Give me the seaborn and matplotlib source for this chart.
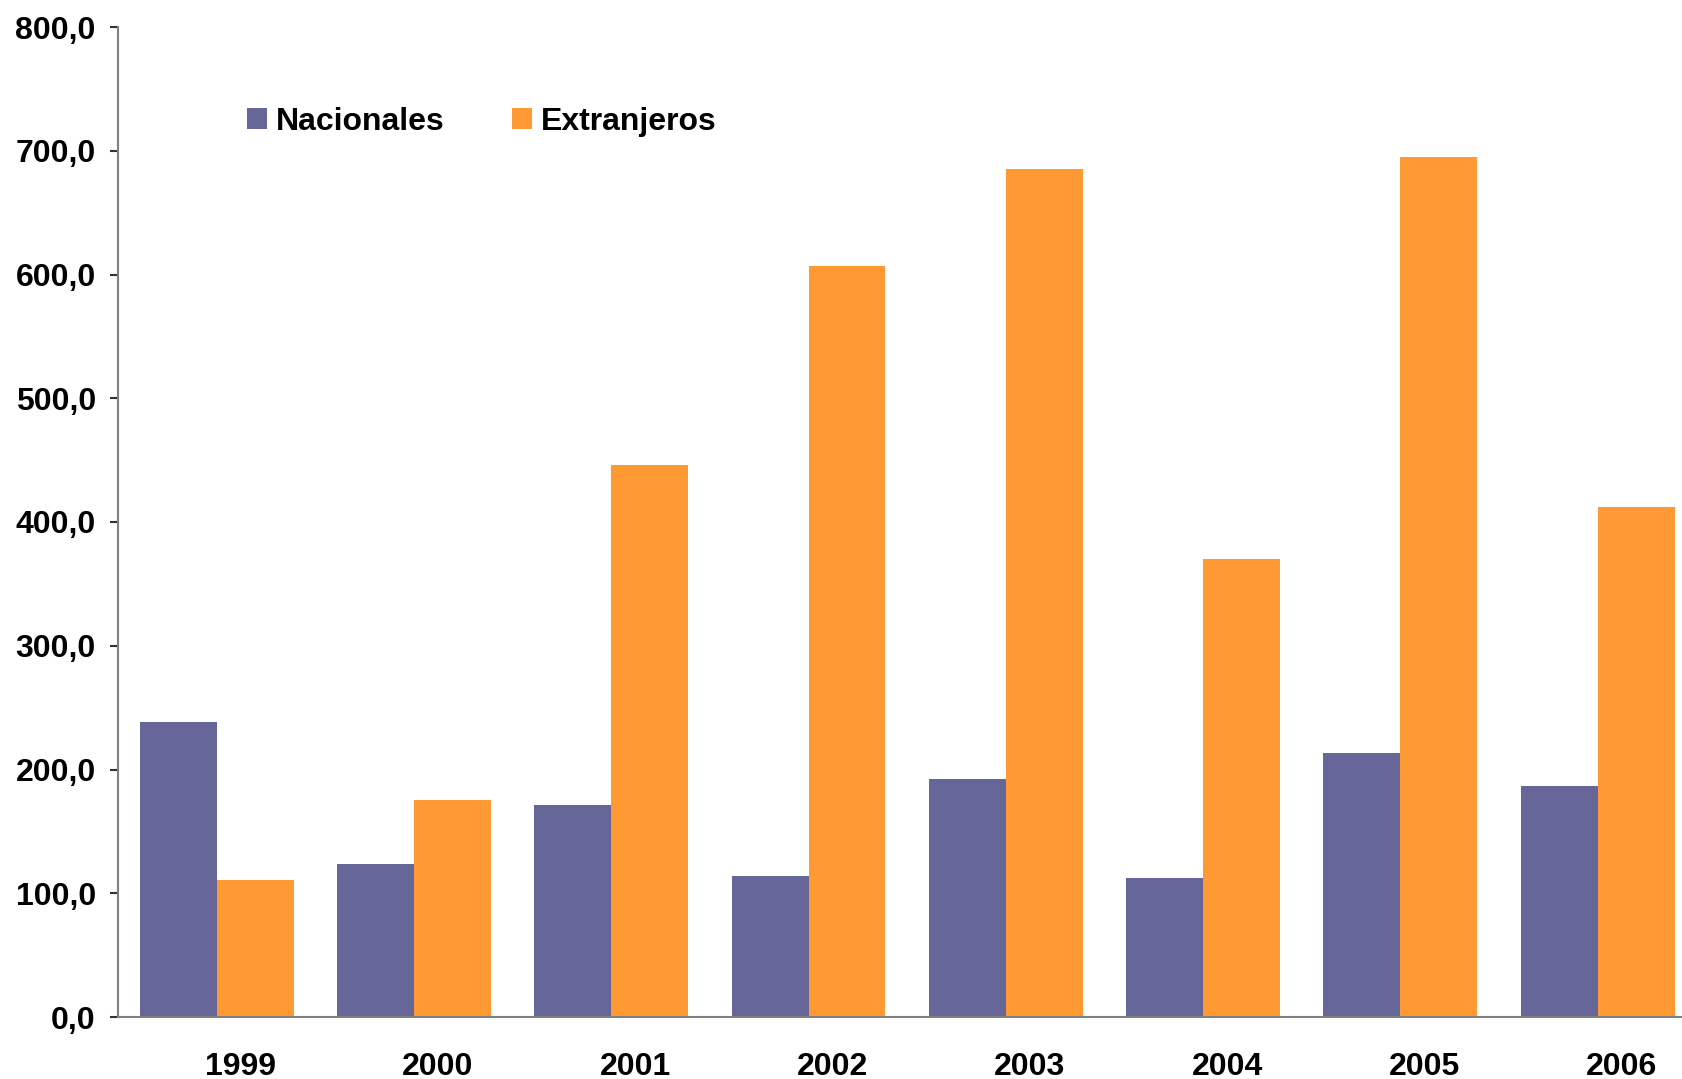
import pandas as pd
import numpy as np
import matplotlib
matplotlib.use('Agg')
import matplotlib.pyplot as plt
import seaborn as sns
from matplotlib.ticker import FuncFormatter, FixedLocator
from matplotlib.transforms import ScaledTranslation

# data
years = ['1999', '2000', '2001', '2002', '2003', '2004', '2005', '2006']
nacionales = [238, 124, 171, 114, 192, 112, 213, 187]
extranjeros = [111, 175, 446, 607, 685, 370, 695, 412]
series_names = ['Nacionales', 'Extranjeros']
colors = ['#666699', '#FF9933']

df = pd.DataFrame({
    'year': years * 2,
    'valor': nacionales + extranjeros,
    'tipo': [series_names[0]] * len(years) + [series_names[1]] * len(years),
})

sns.set_style('white')
plt.rcParams['font.family'] = ['Liberation Sans', 'DejaVu Sans']
plt.rcParams['font.weight'] = 'bold'
plt.rcParams['text.color'] = 'black'
plt.rcParams['xtick.color'] = 'black'
plt.rcParams['ytick.color'] = 'black'

fig = plt.figure(figsize=(16.82, 10.79), dpi=100)
ax = fig.add_axes([118 / 1682, 1 - 1017 / 1079, 1 - 118 / 1682, (1017 - 27) / 1079])

sns.barplot(data=df, x='year', y='valor', hue='tipo', palette=colors,
            width=0.78, saturation=1, linewidth=0, ax=ax, legend=True)

ax.set_xlim(-0.5, 7.4275)
ax.set_ylim(0, 800)
ax.set_yticks(np.arange(0, 801, 100))
ax.yaxis.set_major_formatter(FuncFormatter(lambda v, p: f'{v:.1f}'.replace('.', ',')))
ax.set_xlabel('')
ax.set_ylabel('')

for s in ['top', 'right']:
    ax.spines[s].set_visible(False)
for s in ['left', 'bottom']:
    ax.spines[s].set_color('#808080')
    ax.spines[s].set_linewidth(1.5)

# tick marks at category boundaries, labels in between
ax.xaxis.set_minor_locator(FixedLocator(np.arange(-0.5, 8, 1)))
ax.tick_params(axis='x', which='major', length=0, pad=25, labelsize=23)
ax.tick_params(axis='x', which='minor', length=8, width=1.5, color='#333333', direction='out')
ax.tick_params(axis='y', length=6, width=1.5, color='#333333', direction='out', pad=10,
               labelsize=23, left=True)
for lab in ax.get_xticklabels():
    lab.set_transform(lab.get_transform() + ScaledTranslation(0.24, 0, fig.dpi_scale_trans))
    lab.set_fontweight('bold')
for lab in ax.get_yticklabels():
    lab.set_fontweight('bold')

handles, labels = ax.get_legend_handles_labels()
ax.get_legend().remove()
fig.legend(handles, labels, loc='center left', bbox_to_anchor=(218 / 1682, 1 - 122 / 1079),
           ncol=2, frameon=False, handlelength=0.62, handleheight=0.62,
           handletextpad=0.3, columnspacing=2.1, prop={'weight': 'bold', 'size': 23})

fig.savefig('out.png', dpi=100)
